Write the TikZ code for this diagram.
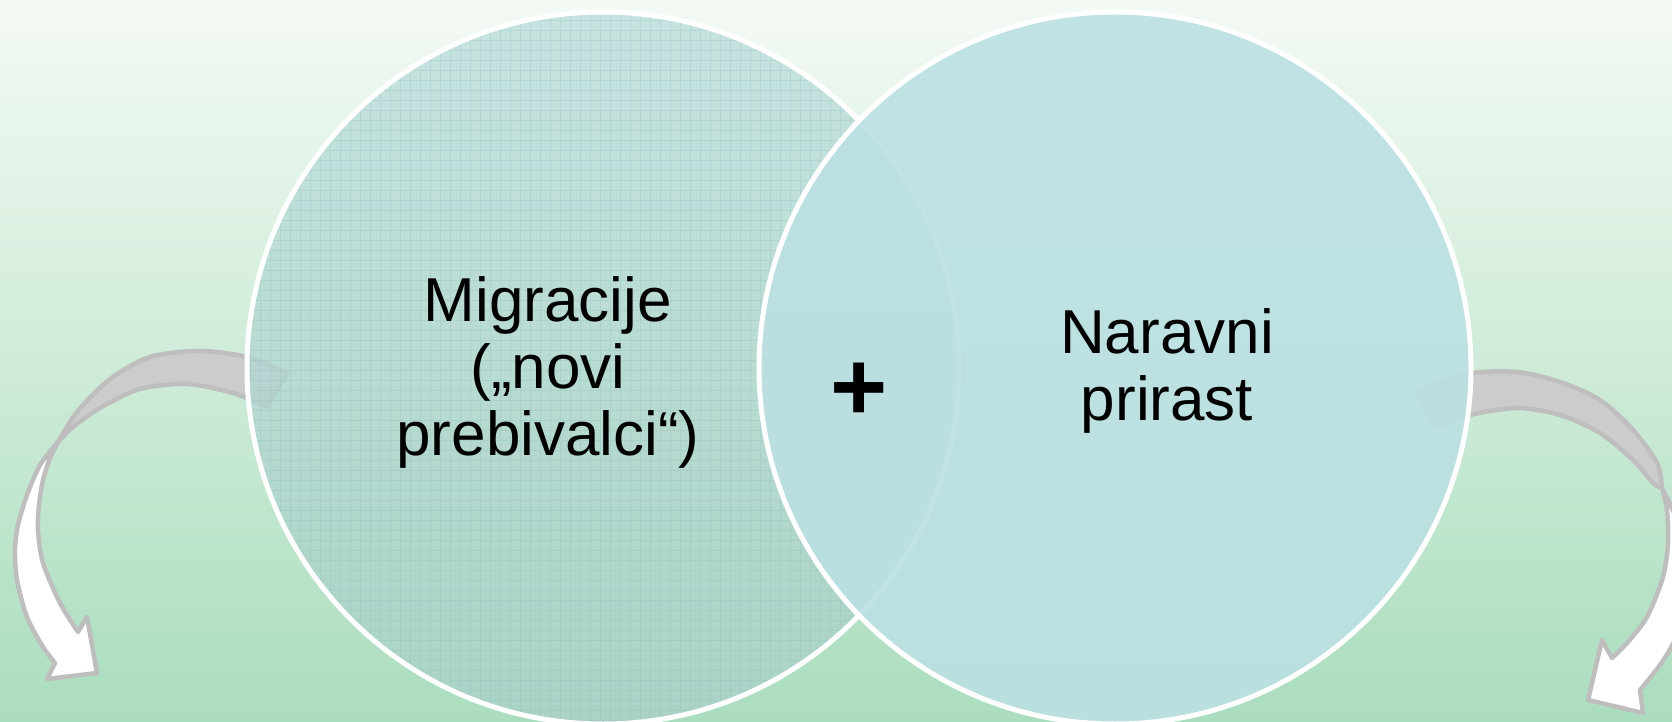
\documentclass[tikz,border=0pt]{standalone}
\usepackage{fontspec}
\setmainfont{Liberation Sans}
\definecolor{bgtop}{RGB}{244,250,244}
\definecolor{bgbot}{RGB}{170,221,190}
\definecolor{lefttop}{RGB}{188,222,220}
\definecolor{leftbot}{RGB}{170,208,200}
\definecolor{gridcol}{RGB}{140,188,190}
\definecolor{rightfill}{RGB}{188,224,227}
\definecolor{arrowback}{RGB}{204,204,204}
\definecolor{arrowedge}{RGB}{190,190,190}
\begin{document}
\begin{tikzpicture}[x=1pt,y=-1pt,
  ribbon/.style={draw=arrowedge, line width=4.5pt, line join=round},
  bigcircle/.style={circle, minimum size=712pt, inner sep=0pt, draw=white, line width=5pt},
  gridlines/.style={draw=gridcol, line width=0.6pt, opacity=0.3},
  label/.style={align=center, font=\fontsize{62}{67}\selectfont, text=black, inner sep=0pt}]
\useasboundingbox (0,0) rectangle (1672,722);
\clip (0,0) rectangle (1672,722);
\shade[top color=bgtop, bottom color=bgbot] (0,0) rectangle (1672,722);

% left curved arrow: back (grey) part
\path[ribbon, fill=arrowback]
  plot[smooth] coordinates {(287,373) (247,357) (200,351) (150,357) (110,379) (77,412) (58,442)}
  -- plot[smooth] coordinates {(58,442) (73,427) (100,408) (140,389) (187,384) (233,393) (267,407)}
  -- cycle;
% left curved arrow: front (white) part with head
\path[ribbon, fill=white]
  plot[smooth] coordinates {(58,442) (40,465) (27,495) (18,525) (15,550) (17,580) (27,617) (43,647) (55,663)}
  -- (47,679) -- (97,673) -- (87,617)
  -- plot[smooth] coordinates {(78,632) (60,603) (43,563) (38,530) (39,505) (43,480) (50,458) (58,442)}
  -- cycle;

% right curved arrow: back (grey) part
\path[ribbon, fill=arrowback]
  plot[smooth] coordinates {(1418,392) (1465,374) (1517,372) (1560,382) (1600,400) (1633,430) (1657,463) (1662,488)}
  -- plot[smooth] coordinates {(1662,488) (1653,483) (1633,460) (1600,433) (1560,415) (1517,408) (1470,415) (1437,428)}
  -- cycle;
% right curved arrow: front (white) part with head
\path[ribbon, fill=white]
  plot[smooth] coordinates {(1662,488) (1675,515) (1685,545) (1690,575) (1686,610) (1675,640) (1660,665) (1640,690)}
  -- (1643,713) -- (1588,700) -- (1602,640)
  -- plot[smooth] coordinates {(1612,658) (1627,643) (1647,617) (1663,577) (1668,543) (1667,510) (1662,488)}
  -- cycle;

% left circle with its grid texture
\node[bigcircle, top color=lefttop, bottom color=leftbot, fill opacity=0.78] (mig) at (603,368) {};
\begin{scope}
  \clip (603,368) circle[radius=353];
  \begin{scope}[even odd rule]
    \clip (0,0) rectangle (1672,722) (1115,368) circle[radius=356];
    \draw[gridlines, step=10pt] (240,0) grid (970,730);
  \end{scope}
\end{scope}
% right circle
\node[bigcircle, fill=rightfill, fill opacity=0.9] (nar) at (1115,368) {};

% texts
\node[label] (migtext) at (548,372) {Migracije\\(„novi\\prebivalci“)};
\node[label] (nartext) at (1167,371) {Naravni\\prirast};
\node[font=\fontsize{98}{98}\selectfont\bfseries, inner sep=0pt] (plus) at (859,392) {+};
\end{tikzpicture}
\end{document}
